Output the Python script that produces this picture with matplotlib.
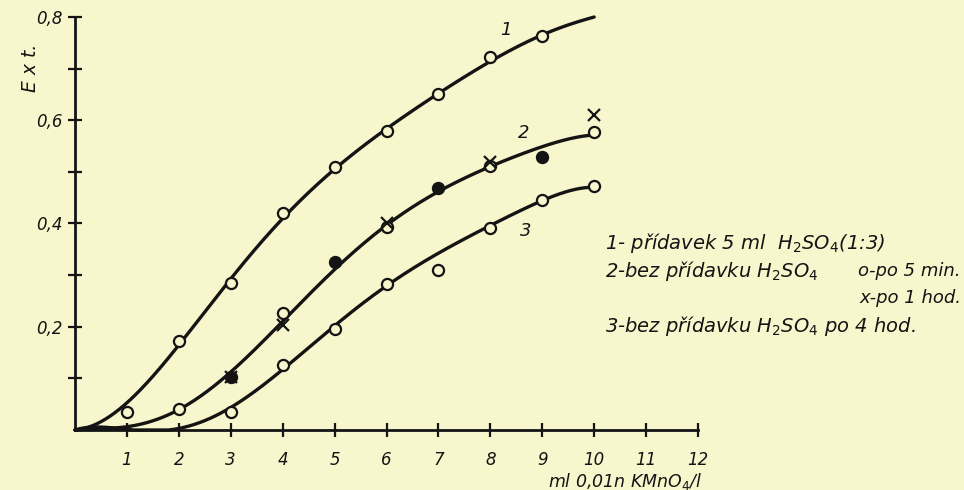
import numpy as np
import matplotlib
matplotlib.use("Agg")
import matplotlib.pyplot as plt

# ---- data ----
x_curve1 = [0, 0.5, 1, 2, 3, 4, 5, 6, 7, 8, 9, 10]
curve1 = [0.0, 0.022, 0.045, 0.17, 0.29, 0.41, 0.505, 0.585, 0.65, 0.715, 0.765, 0.80]
x_curve = [0, 1, 2, 3, 4, 5, 6, 7, 8, 9, 10]
curve2 = [0.0, 0.008, 0.038, 0.11, 0.215, 0.31, 0.395, 0.46, 0.515, 0.546, 0.572]
curve3 = [0.0, 0.0, 0.006, 0.04, 0.12, 0.2, 0.28, 0.343, 0.395, 0.445, 0.47]

x1_pts = [1, 2, 3, 4, 5, 6, 7, 8, 9]
y1_pts = [0.034, 0.173, 0.284, 0.42, 0.51, 0.58, 0.651, 0.723, 0.764]

x2_o = [2, 4, 6, 8, 10]
y2_o = [0.041, 0.226, 0.394, 0.512, 0.578]
x2_x = [3, 4, 6, 8, 10]
y2_x = [0.103, 0.203, 0.40, 0.52, 0.61]
x2_dot = [3, 5, 7, 9]
y2_dot = [0.103, 0.326, 0.468, 0.529]

x3_pts = [3, 4, 5, 6, 7, 8, 9, 10]
y3_pts = [0.035, 0.125, 0.195, 0.283, 0.309, 0.391, 0.446, 0.473]

x_ticks = [1, 2, 3, 4, 5, 6, 7, 8, 9, 10, 11, 12]
y_ticks = [0.1, 0.2, 0.3, 0.4, 0.5, 0.6, 0.7, 0.8]
y_ticklabels = ["", "0,2", "", "0,4", "", "0,6", "", "0,8"]
curve_labels = ["1", "2", "3"]
curve_label_pos = [(8.3, 0.775), (8.65, 0.575), (8.68, 0.385)]

legend_lines = [
    r"1- přídavek 5 ml  H$_2$SO$_4$(1:3)",
    r"2-bez přídavku H$_2$SO$_4$",
    r"3-bez přídavku H$_2$SO$_4$ po 4 hod.",
]
legend_sub = ["o-po 5 min.", "x-po 1 hod."]

BG = "#f8f6cc"
INK = "#141414"

plt.rcParams["font.family"] = ["DejaVu Sans"]
plt.rcParams["mathtext.fontset"] = "dejavusans"
plt.rcParams["mathtext.default"] = "it"


def smooth(xs, ys, deg=6, w0=5.0):
    xs = np.asarray(xs, float)
    ys = np.asarray(ys, float)
    w = np.ones_like(xs)
    w[0] = w0
    c = np.polyfit(xs, ys, deg, w=w)
    sx = np.linspace(xs[0], xs[-1], 400)
    sy = np.polyval(c, sx)
    return sx, np.maximum(sy, 0.0)


fig = plt.figure(figsize=(9.64, 4.90), dpi=100, facecolor=BG)
ax = fig.add_axes([75 / 964, 60 / 490, 623 / 964, 413 / 490])
ax.set_facecolor(BG)
ax.set_xlim(0, 12)
ax.set_ylim(0, 0.8)

for xs, ys, d in ((x_curve1, curve1, 7), (x_curve, curve2, 6), (x_curve, curve3, 6)):
    sx, sy = smooth(xs, ys, deg=d)
    ax.plot(sx, sy, color=INK, lw=2.4, solid_capstyle="round", zorder=2,
            clip_on=False)

mk = dict(ms=8, mew=1.6, zorder=3, clip_on=False, ls="none")
ax.plot(x1_pts, y1_pts, marker="o", mfc=BG, mec=INK, **mk)
ax.plot(x3_pts, y3_pts, marker="o", mfc=BG, mec=INK, **mk)
ax.plot(x2_dot, y2_dot, marker="o", mfc=INK, mec=INK, **mk)
ax.plot(x2_o, y2_o, marker="o", mfc=BG, mec=INK, **mk)
ax.plot(x2_x, y2_x, marker="x", color=INK, **mk)

for lab, (lx, ly) in zip(curve_labels, curve_label_pos):
    ax.text(lx, ly, lab, fontsize=13, style="italic", color=INK,
            ha="center", va="center")

for s in ("top", "right"):
    ax.spines[s].set_visible(False)
for s in ("left", "bottom"):
    ax.spines[s].set_linewidth(2.0)
    ax.spines[s].set_color(INK)

ax.set_xticks(x_ticks)
ax.set_xticklabels([str(v) for v in x_ticks], fontsize=12, style="italic")
ax.set_yticks(y_ticks)
ax.set_yticklabels(y_ticklabels, fontsize=12, style="italic")
ax.tick_params(axis="both", direction="inout", length=10, width=1.6,
               colors=INK, labelcolor=INK)
ax.tick_params(axis="x", pad=10)
ax.tick_params(axis="y", pad=4)

fig.text(31 / 964, 1 - 68 / 490, "E x t.", rotation=90, fontsize=13.5,
         style="italic", color=INK, ha="center", va="center")
fig.text(625 / 964, 1 - 481 / 490, r"ml 0,01n KMnO$_4$/l", fontsize=12.5,
         style="italic", color=INK, ha="center", va="center")

ys_leg = [243, 271, 326]
for txt, yy in zip(legend_lines, ys_leg):
    fig.text(605 / 964, 1 - yy / 490, txt, fontsize=14, style="italic",
             color=INK, ha="left", va="center")
fig.text(961 / 964, 1 - 271 / 490, legend_sub[0], fontsize=13, style="italic",
         color=INK, ha="right", va="center")
fig.text(961 / 964, 1 - 298 / 490, legend_sub[1], fontsize=13, style="italic",
         color=INK, ha="right", va="center")

fig.savefig("out.png", dpi=100, facecolor=BG)
